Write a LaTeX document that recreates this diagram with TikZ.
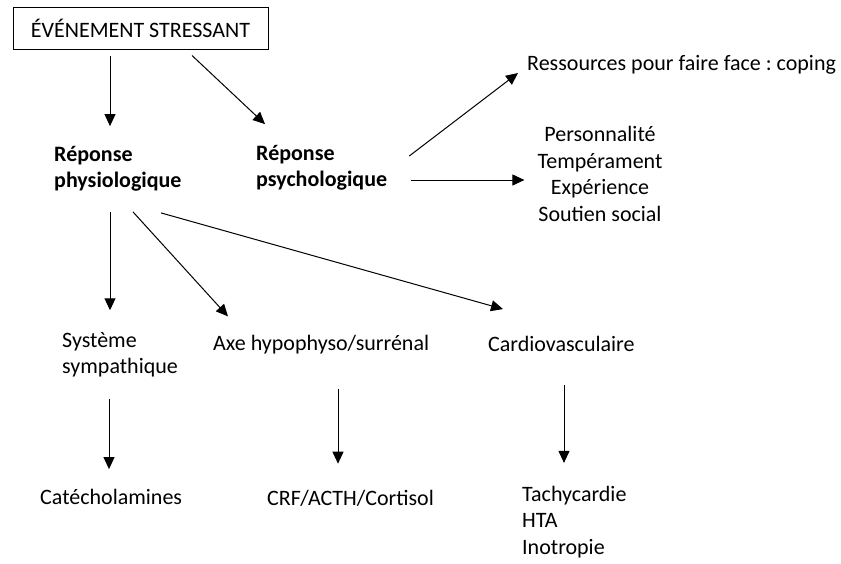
\documentclass[tikz,border=0pt]{standalone}
\usepackage{fontspec}
\setmainfont{Carlito}
\frenchspacing
\usepackage{tikz}
\usetikzlibrary{arrows.meta,positioning}
\tikzset{
  txt/.style={inner sep=0pt, font=\fontsize{22}{26.5}\selectfont},
  txtb/.style={txt, font=\fontsize{22}{26.5}\selectfont\bfseries, align=left},
  cadre/.style={rectangle, draw=black, line width=1pt, minimum width=255pt, minimum height=42pt, inner sep=0pt, font=\fontsize{22}{26.5}\selectfont},
  line/.style={draw, line width=1pt, -{Triangle[length=12pt,width=11pt]}},
}

\begin{document}
\begin{tikzpicture}[x=1pt,y=-1pt]
    \useasboundingbox (0,0) rectangle (841,563);

    \node[cadre] (evt) at (140.5,28) {ÉVÉNEMENT STRESSANT};

    \node[txtb,anchor=west] (physio) at (54,169) {Réponse\\physiologique};
    \node[txtb,anchor=west] (psycho) at (256,168) {Réponse\\psychologique};

    \node[txt,anchor=west] (coping) at (527,65) {Ressources pour faire face : coping};
    \node[txt,align=center] (traits) at (600,174) {Personnalité\\Tempérament\\Expérience\\Soutien social};

    \node[txt,anchor=west,align=left] (symp) at (62,355) {Système\\sympathique};
    \node[txt,anchor=west] (axe) at (213,345) {Axe hypophyso/surrénal};
    \node[txt,anchor=west] (cardio) at (488,344) {Cardiovasculaire};

    \node[txt,anchor=west] (catech) at (40,497) {Catécholamines};
    \node[txt,anchor=west] (crf) at (267,498) {CRF/ACTH/Cortisol};
    \node[txt,anchor=west,align=left] (tachy) at (522,522) {Tachycardie\\HTA\\Inotropie};

    \begin{scope}[every path/.style=line]
      \path ([xshift=-30.5pt,yshift=-6pt]evt.south) -- ([xshift=56pt,yshift=20pt]physio.north west);
      \path ([xshift=51.5pt,yshift=-6pt]evt.south) -- ([xshift=9pt,yshift=21pt]psycho.north west);

      \path ([xshift=22pt,yshift=12pt]psycho.east) -- ([xshift=-9pt,yshift=-8pt]coping.west);
      \path ([xshift=24pt,yshift=-12pt]psycho.east) -- ([xshift=-13pt,yshift=-6pt]traits.west);

      \path ([xshift=56pt,yshift=-20pt]physio.south west) -- ([xshift=48pt,yshift=22pt]symp.north west);
      \path ([xshift=79pt,yshift=-20pt]physio.south west) -- ([xshift=15pt,yshift=19pt]axe.north west);
      \path ([xshift=107pt,yshift=-21pt]physio.south west) -- ([xshift=15pt,yshift=27pt]cardio.north west);

      \path ([xshift=47pt,yshift=-21pt]symp.south west) -- ([xshift=69pt,yshift=20pt]catech.north west);
      \path ([xshift=125pt,yshift=-34pt]axe.south west) -- ([xshift=71pt,yshift=26pt]crf.north west);
      \path ([xshift=76pt,yshift=-33pt]cardio.south west) -- ([xshift=42pt,yshift=23pt]tachy.north west);
    \end{scope}

\end{tikzpicture}
\end{document}
